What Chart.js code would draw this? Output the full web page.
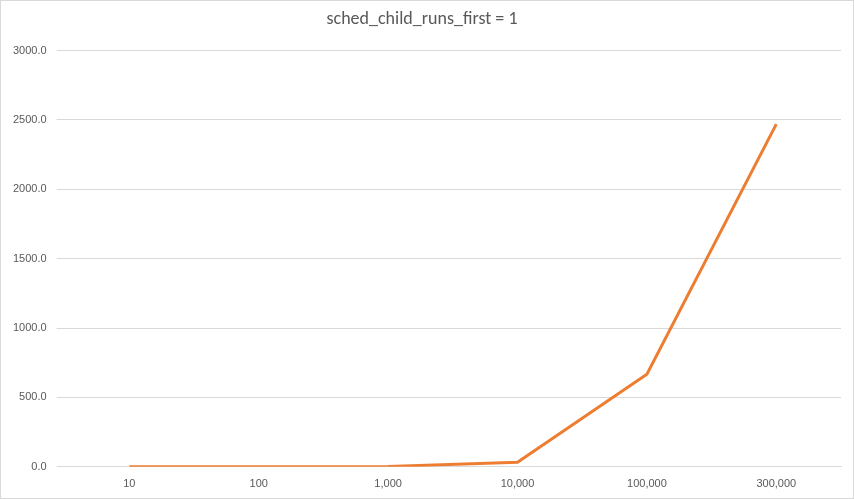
<!DOCTYPE html>
<html>
<head>
<meta charset="utf-8">
<script src="https://cdn.jsdelivr.net/npm/chart.js@4"></script>
<style>
  body { margin: 0; background: #fff; }
  #wrap { width: 852px; height: 497px; border: 1px solid #d9d9d9; }
</style>
</head>
<body>
<div id="wrap"><canvas id="c" width="852" height="497"></canvas></div>
<script>
// values
const categories = ['10', '100', '1,000', '10,000', '100,000', '300,000'];
const runTimes = [0.2, 0.6, 3, 32, 667, 2470];
const yTicks = [0, 500, 1000, 1500, 2000, 2500, 3000];

new Chart(document.getElementById('c').getContext('2d'), {
    type: 'line',
    data: {
        labels: categories,
        datasets: [{
            data: runTimes,
            borderColor: '#ed7d31',
            borderWidth: 3,
            pointRadius: 0,
            tension: 0,
            fill: false
        }]
    },
    options: {
        responsive: false,
        animation: false,
        layout: { padding: { left: 2, right: 12, bottom: 4, top: 0 } },
        plugins: {
            legend: { display: false },
            title: {
                display: true,
                text: 'sched_child_runs_first = 1',
                color: '#595959',
                font: { family: 'Calibri, Carlito, "Open Sans", sans-serif', size: 18, weight: 'normal' },
                padding: { top: 8, bottom: 20 }
            }
        },
        scales: {
            x: {
                offset: true,
                grid: { display: false },
                border: { color: '#d9d9d9' },
                ticks: { color: '#595959', font: { size: 11 } }
            },
            y: {
                min: 0,
                max: 3000,
                afterBuildTicks: axis => { axis.ticks = yTicks.map(v => ({ value: v })); },
                grid: { color: '#d9d9d9' },
                border: { display: false },
                ticks: {
                    color: '#595959',
                    font: { size: 11 },
                    padding: 10,
                    callback: v => Number(v).toFixed(1)
                }
            }
        }
    }
});
</script>
</body>
</html>
